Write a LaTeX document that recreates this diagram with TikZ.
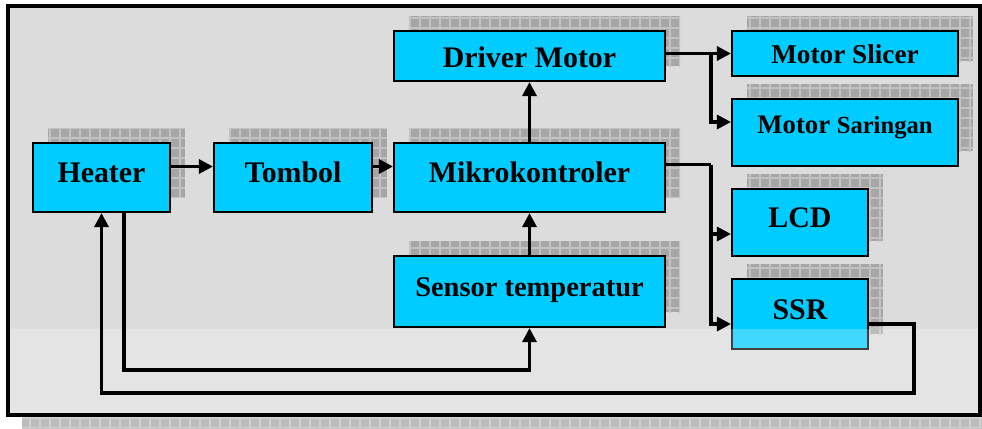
\documentclass[tikz,border=0pt]{standalone}
\usepackage{fontspec}
\setmainfont{Liberation Serif}
\usetikzlibrary{positioning, arrows.meta, shadows, patterns.meta}
\definecolor{boxcyan}{HTML}{00CCFF}
\definecolor{panelgray}{HTML}{DCDCDC}
\definecolor{shadowgray}{HTML}{A6A6A6}
\definecolor{gridgray}{HTML}{C2C2C2}
\begin{document}
\begin{tikzpicture}[
    node distance=1cm,
    block/.style={rectangle, draw, line width=1.2pt, fill=boxcyan, inner sep=1pt, text height=0.45cm, text depth=0.25cm, font=\fontsize{17}{20}\selectfont\bfseries,
        general shadow={shadow xshift=0.3cm, shadow yshift=0.3cm, draw=none, fill=shadowgray},
        general shadow={shadow xshift=0.3cm, shadow yshift=0.3cm, draw=none, pattern={Hatch[angle=0, distance=0.2cm, line width=0.6pt]}, pattern color=gridgray}},
    arrow/.style={-{Triangle[length=8pt, width=8pt]}, line width=1.8pt},
    line/.style={line width=1.8pt}
]
\useasboundingbox (0,0) rectangle (19.64,-8.56);

% Panel
\fill[shadowgray] (0.44,-8.3) rectangle (19.64,-8.56);
\fill[pattern={Hatch[angle=0, distance=0.2cm, line width=0.6pt]}, pattern color=gridgray] (0.44,-8.3) rectangle (19.64,-8.56);
\fill[panelgray] (0.16,-0.12) rectangle (19.6,-8.3);

% Main row
\node[block, minimum width=2.74cm, minimum height=1.38cm] (heater) at (2.03,-3.55) {Heater};
\node[block, minimum width=3.16cm, minimum height=1.38cm, right of=heater, xshift=2.83cm] (tombol) {Tombol};
\node[block, minimum width=5.42cm, minimum height=1.38cm, right of=tombol, xshift=3.73cm] (mikro) {Mikrokontroler};

% Above and below the controller
\node[block, minimum width=5.42cm, minimum height=1cm, text height=0.5cm, text depth=0.05cm, above of=mikro, yshift=1.43cm] (driver) {Driver Motor};
\node[block, minimum width=5.42cm, minimum height=1.42cm, font=\fontsize{16.2}{19}\selectfont\bfseries, below of=mikro, yshift=-1.28cm] (sensor) {Sensor temperatur};

% Outputs
\node[block, minimum width=4.52cm, minimum height=0.9cm, text height=0.45cm, text depth=0.05cm, font=\fontsize{15.5}{18}\selectfont\bfseries, right of=driver, xshift=5.31cm, yshift=0.05cm] (slicer) {Motor Slicer};
\node[block, minimum width=4.52cm, minimum height=1.34cm, text height=0.3cm, text depth=0.25cm, font=\fontsize{15.2}{18}\selectfont\bfseries, below of=slicer, yshift=-0.58cm] (saringan) {Motor {\fontsize{14}{17}\selectfont Saringan}};
\node[block, minimum width=2.72cm, minimum height=1.34cm, right of=mikro, xshift=4.41cm, yshift=-0.9cm] (lcd) {LCD};
\node[block, minimum width=2.72cm, minimum height=1.4cm, below of=lcd, yshift=-0.83cm] (ssr) {SSR};

% Lighter lower band, then the panel border
\fill[white, opacity=0.25] (0,-6.58) rectangle (19.64,-8.56);
\draw[line width=1.8pt] (0.16,-0.12) rectangle (19.6,-8.3);

% Junctions
\coordinate[xshift=0.9cm] (splitdrv) at (driver.east |- slicer.west);
\coordinate[xshift=0.9cm, yshift=0.26cm] (splitmcu) at (mikro.east);
\coordinate[xshift=0.9cm, yshift=-0.86cm] (ssrloop) at (ssr.south east);

% Arrows
\draw[arrow] ([yshift=0.22cm]heater.east) -- ([yshift=0.22cm]tombol.west);
\draw[arrow] ([yshift=0.22cm]tombol.east) -- ([yshift=0.22cm]mikro.west);
\draw[arrow] (mikro) -- (driver);
\draw[arrow] (sensor) -- (mikro);

\draw[arrow] (driver.east |- slicer.west) -- (slicer.west);
\draw[arrow] (splitdrv) |- ([yshift=0.21cm]saringan.west);

\draw[line] ([yshift=0.26cm]mikro.east) -- (splitmcu);
\draw[arrow] (splitmcu) |- ([yshift=-0.23cm]lcd.west);
\draw[arrow] (splitmcu) |- ([yshift=-0.2cm]ssr.west);

% Feedback
\draw[arrow] ([yshift=-0.2cm]ssr.east) -| (ssrloop) -| (heater.south);
\draw[arrow] ([xshift=0.45cm]heater.south) |- ([yshift=-0.84cm]sensor.south) -- (sensor.south);
\end{tikzpicture}
\end{document}
